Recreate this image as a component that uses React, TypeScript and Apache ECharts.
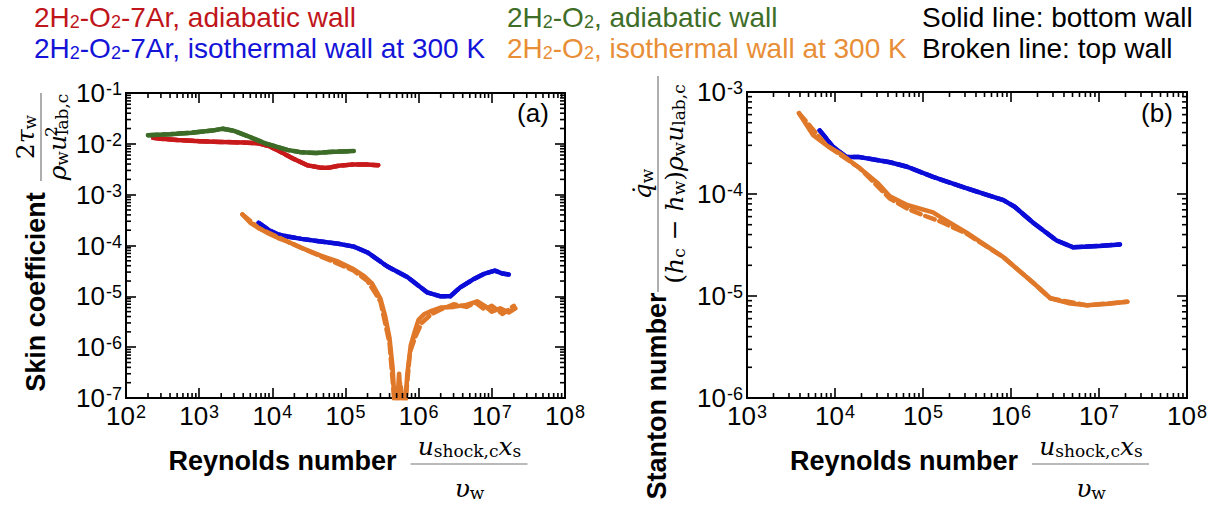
import React, { useEffect, useRef } from "react";
import * as echarts from "echarts";

// ---------- axis ranges ----------
const A_X_MIN = 1e2, A_X_MAX = 1e8, A_Y_MIN = 1e-7, A_Y_MAX = 1e-1;
const B_X_MIN = 1e3, B_X_MAX = 1e8, B_Y_MIN = 1e-6, B_Y_MAX = 1e-3;

// ---------- panel (a): skin coefficient ----------
const aRed: number[][] = [
  [235, 0.0132], [300, 0.0126], [500, 0.0119], [1000, 0.0113], [2000, 0.0109],
  [4000, 0.0106], [6500, 0.0102], [9000, 0.0090], [12000, 0.0074], [15000, 0.0062],
  [20000, 0.0050], [30000, 0.0038], [45000, 0.0034], [60000, 0.0034], [80000, 0.0037],
  [120000, 0.0039], [200000, 0.0039], [280000, 0.0038],
];
const aGreen: number[][] = [
  [200, 0.0148], [400, 0.0155], [800, 0.0166], [1500, 0.0182], [2100, 0.0198],
  [3000, 0.0180], [5000, 0.0135], [8000, 0.0102], [12000, 0.0086], [16000, 0.0076],
  [25000, 0.0068], [40000, 0.0066], [60000, 0.0069], [90000, 0.0071], [130000, 0.0072],
];
const aBlue: number[][] = [
  [6500, 2.8e-4], [9000, 2.0e-4], [12000, 1.65e-4], [16000, 1.5e-4], [25000, 1.35e-4],
  [46000, 1.2e-4], [80000, 1.08e-4], [130000, 9.5e-5], [200000, 7.3e-5], [370000, 3.9e-5],
  [700000, 2.4e-5], [1300000, 1.2e-5], [2000000, 1.0e-5], [2700000, 1.0e-5], [3700000, 1.5e-5],
  [5700000, 2.2e-5], [8000000, 2.8e-5], [11000000, 3.2e-5], [14000000, 2.8e-5], [17000000, 2.7e-5],
];
const aOrange: number[][] = [
  [3900, 4.1e-4], [5000, 2.8e-4], [6500, 2.2e-4], [9000, 1.7e-4], [12000, 1.4e-4],
  [16000, 1.2e-4], [25000, 9.0e-5], [46000, 6.3e-5], [80000, 4.8e-5], [130000, 3.4e-5],
  [180000, 2.5e-5], [230000, 1.8e-5], [300000, 9.0e-6], [350000, 4.0e-6], [400000, 1.5e-6],
  [440000, 4.0e-7], [470000, 8.0e-8], [500000, 5.0e-8], [540000, 3.0e-7], [580000, 6.0e-8],
  [640000, 5.0e-8], [700000, 3.0e-7], [780000, 1.1e-6], [900000, 2.2e-6], [1000000, 3.5e-6],
  [1200000, 4.5e-6], [1500000, 5.2e-6], [2000000, 6.0e-6], [3000000, 6.2e-6], [4500000, 6.8e-6],
  [6300000, 8.0e-6], [8000000, 6.5e-6], [10000000, 5.0e-6], [13000000, 5.8e-6], [17000000, 4.8e-6],
  [21000000, 5.8e-6],
];
const aOrangeTop: number[][] = [
  [3900, 4.1e-4], [6500, 2.2e-4], [16000, 1.2e-4], [46000, 6.1e-5], [130000, 3.2e-5],
  [200000, 2.0e-5], [300000, 8.0e-6], [400000, 1.2e-6], [480000, 5.0e-8], [560000, 2.0e-7],
  [640000, 5.0e-8], [760000, 8.0e-7], [900000, 1.6e-6], [1100000, 3.0e-6], [1500000, 4.5e-6],
  [2000000, 5.5e-6], [3000000, 7.0e-6], [4500000, 6.2e-6], [6000000, 7.5e-6], [8000000, 5.5e-6],
  [10000000, 6.5e-6], [14000000, 4.5e-6], [20000000, 6.5e-6],
];

// ---------- panel (b): Stanton number ----------
const bBlue: number[][] = [
  [6700, 4.2e-4], [9500, 2.9e-4], [13500, 2.3e-4], [19000, 2.3e-4], [42000, 2.05e-4],
  [66000, 1.85e-4], [130000, 1.47e-4], [310000, 1.14e-4], [820000, 8.7e-5], [1100000, 7.5e-5],
  [1800000, 5.2e-5], [3300000, 3.5e-5], [5100000, 3.0e-5], [10200000, 3.1e-5], [17300000, 3.2e-5],
];
const bOrange: number[][] = [
  [3900, 6.2e-4], [5600, 3.8e-4], [8000, 3.0e-4], [11400, 2.5e-4], [19000, 1.8e-4],
  [30000, 1.3e-4], [42000, 9.5e-5], [66000, 7.8e-5], [130000, 6.6e-5], [155000, 6.0e-5],
  [310000, 4.2e-5], [820000, 2.4e-5], [1800000, 1.34e-5], [2800000, 9.5e-6], [4500000, 8.5e-6],
  [7300000, 8.1e-6], [13000000, 8.4e-6], [21000000, 8.8e-6],
];
const bOrangeTop: number[][] = [
  [3900, 6.2e-4], [8000, 3.0e-4], [19000, 1.8e-4], [42000, 9.0e-5], [66000, 7.2e-5],
  [100000, 6.2e-5], [155000, 5.4e-5], [310000, 4.1e-5], [820000, 2.4e-5], [1800000, 1.34e-5],
  [2800000, 9.5e-6], [7300000, 8.1e-6], [21000000, 8.8e-6],
];

// ---------- colours / legend text ----------
const C_RED = "#c8191b";
const C_GREEN = "#3d6c28";
const C_BLUE = "#0c0cd8";
const C_ORANGE = "#e0782a";
const LEGEND_ROWS = [
  { text: "2H{s|2}-O{s|2}-7Ar, adiabatic wall", color: "#c0161b", col: 0, row: 0 },
  { text: "2H{s|2}-O{s|2}, adiabatic wall", color: "#3e6e28", col: 1, row: 0 },
  { text: "Solid line: bottom wall", color: "#000000", col: 2, row: 0 },
  { text: "2H{s|2}-O{s|2}-7Ar, isothermal wall at 300 K", color: "#1414d8", col: 0, row: 1 },
  { text: "2H{s|2}-O{s|2}, isothermal wall at 300 K", color: "#e88e36", col: 1, row: 1 },
  { text: "Broken line: top wall", color: "#000000", col: 2, row: 1 },
];
const LEGEND_COL_X = [34, 507, 922];
const LEGEND_ROW_Y = [17, 48];

const SANS = "'Liberation Sans', Arial, Helvetica, sans-serif";
const SERIF = "'DejaVu Serif', 'Liberation Serif', serif";

// ---------- layout ----------
const GRID_A = { left: 126, top: 93, width: 439, height: 305 };
const GRID_B = { left: 747, top: 92, width: 440, height: 306 };
const MINOR_LEN = 5;

// minor tick values (2..9 x 10^n) inside an axis range
function minorTicks(min: number, max: number) {
  const out: number[] = [];
  const e0 = Math.round(Math.log(min) / Math.LN10);
  const e1 = Math.round(Math.log(max) / Math.LN10);
  for (let e = e0; e < e1; e++) {
    for (let k = 2; k <= 9; k++) out.push(k * Math.pow(10, e));
  }
  return out;
}

const powLabel = (v: number) => `{b|10}{s|${Math.round(Math.log10(v))}}`;
const powRich = {
  b: { fontSize: 26, fontFamily: SANS, color: "#000", lineHeight: 26, verticalAlign: "bottom" },
  s: { fontSize: 18, fontFamily: SANS, color: "#000", lineHeight: 18, verticalAlign: "top", padding: [0, 0, 15, 1] },
};

function logAxis(min: number, max: number, isX: boolean, gridIndex: number, mirror: boolean) {
  return {
    type: "log",
    logBase: 10,
    gridIndex,
    min,
    max,
    splitNumber: 10,
    position: mirror ? (isX ? "top" : "right") : isX ? "bottom" : "left",
    axisLine: { show: false },
    axisTick: { show: true, inside: true, length: 10, lineStyle: { color: "#000", width: 1.6 } },
    splitLine: { show: false },
    minorTick: { show: false },
    axisLabel: {
      show: !mirror,
      formatter: powLabel,
      rich: powRich,
      margin: isX ? 5 : 4,
      showMinLabel: true,
      showMaxLabel: true,
    },
  };
}

function lineSeries(data: number[][], color: string, idx: number, dashed = false) {
  return {
    type: "line",
    xAxisIndex: idx,
    yAxisIndex: idx,
    data,
    showSymbol: false,
    symbol: "none",
    clip: true,
    silent: true,
    z: 3,
    lineStyle: { color, width: 4.5, type: dashed ? [10, 5] : "solid", cap: "round", join: "round" },
  };
}

function buildGraphic() {
  const g: any[] = [];
  LEGEND_ROWS.forEach((r) => {
    g.push({
      type: "text",
      x: LEGEND_COL_X[r.col],
      y: LEGEND_ROW_Y[r.row],
      style: {
        text: r.text,
        fill: r.color,
        font: `28px ${SANS}`,
        verticalAlign: "middle",
        align: "left",
        rich: {
          s: { fontSize: 18, fontFamily: SANS, fill: r.color, verticalAlign: "bottom", lineHeight: 18, padding: [12, 0, 0, 0] },
        },
      },
    });
  });
  // panel labels
  g.push({ type: "text", x: 533, y: 113, style: { text: "(a)", font: `26px ${SANS}`, fill: "#000", align: "center", verticalAlign: "middle" } });
  g.push({ type: "text", x: 1157, y: 113, style: { text: "(b)", font: `26px ${SANS}`, fill: "#000", align: "center", verticalAlign: "middle" } });

  const mathRich = (size: number) => ({
    i: { fontFamily: SERIF, fontStyle: "italic", fontSize: size, fill: "#000" },
    r: { fontFamily: SERIF, fontSize: size, fill: "#000" },
    s: { fontFamily: SERIF, fontSize: Math.round(size * 0.68), fill: "#000", verticalAlign: "bottom", padding: [9, 0, 0, 0] },
  });

  // x-axis titles
  [GRID_A.left + GRID_A.width / 2, GRID_B.left + GRID_B.width / 2].forEach((cx) => {
    g.push({
      type: "text", x: cx - 177, y: 461,
      style: { text: "Reynolds number", font: `bold 27px ${SANS}`, fill: "#000", align: "left", verticalAlign: "middle" },
    });
    g.push({
      type: "text", x: cx + 124, y: 446,
      style: { text: "{i|u}{s|shock,c}{i|x}{s|s}", rich: mathRich(25), align: "center", verticalAlign: "middle" },
    });
    g.push({ type: "line", shape: { x1: cx + 65, y1: 464, x2: cx + 182, y2: 464 }, style: { stroke: "#777", lineWidth: 1.2 } });
    g.push({
      type: "text", x: cx + 124, y: 488,
      style: { text: "{i|υ}{s|w}", rich: mathRich(25), align: "center", verticalAlign: "middle" },
    });
  });

  // y-axis title (a)
  g.push({
    type: "text", x: 36, y: 292, rotation: Math.PI / 2,
    style: { text: "Skin coefficient", font: `bold 27px ${SANS}`, fill: "#000", align: "center", verticalAlign: "middle" },
  });
  g.push({
    type: "group", x: 41, y: 137, rotation: Math.PI / 2,
    children: [
      { type: "line", shape: { x1: -44, y1: 0, x2: 44, y2: 0 }, style: { stroke: "#777", lineWidth: 1.2 } },
      { type: "text", x: 0, y: -3, style: { text: "{r|2}{i|τ}{s|w}", rich: mathRich(25), align: "center", verticalAlign: "bottom" } },
      { type: "text", x: 0, y: 3, style: { text: "{i|ρ}{s|w}{i|u}{s|lab,c}", rich: mathRich(25), align: "center", verticalAlign: "top" } },
      { type: "text", x: 0, y: 1, style: { text: "2", font: `17px ${SERIF}`, fill: "#000", align: "left", verticalAlign: "top" } },
    ],
  });

  // y-axis title (b)
  g.push({
    type: "text", x: 657, y: 396, rotation: Math.PI / 2,
    style: { text: "Stanton number", font: `bold 27px ${SANS}`, fill: "#000", align: "center", verticalAlign: "middle" },
  });
  g.push({
    type: "group", x: 658, y: 184, rotation: Math.PI / 2,
    children: [
      { type: "line", shape: { x1: -108, y1: 0, x2: 108, y2: 0 }, style: { stroke: "#777", lineWidth: 1.2 } },
      { type: "text", x: 0, y: -3, style: { text: "{i|q̇}{s|w}", rich: mathRich(25), align: "center", verticalAlign: "bottom" } },
      { type: "text", x: 0, y: 3, style: { text: "{r|(}{i|h}{s|c}{r| − }{i|h}{s|w}{r|)}{i|ρ}{s|w}{i|u}{s|lab,c}", rich: mathRich(25), align: "center", verticalAlign: "top" } },
    ],
  });
  return g;
}

// position of a value along a log axis; the chart's own conversion is used when it agrees with the frame
function axisPixel(chart: any, finder: any, v: number, lo: number, hi: number, start: number, span: number, flip: boolean) {
  const t = Math.log(v / lo) / Math.log(hi / lo);
  const expected = flip ? start + span * (1 - t) : start + span * t;
  let p: any = undefined;
  try {
    p = chart.convertToPixel(finder, v);
  } catch (e) {
    p = undefined;
  }
  if (typeof p === "number" && isFinite(p) && Math.abs(p - expected) < 3) return p;
  return expected;
}

function minorTickGraphics(chart: any, gridIdx: number, grid: any, xMin: number, xMax: number, yMin: number, yMax: number) {
  const out: any[] = [];
  const bottom = grid.top + grid.height;
  const right = grid.left + grid.width;
  const mk = (x1: number, y1: number, x2: number, y2: number) => ({
    type: "line",
    silent: true,
    z: 50,
    shape: { x1, y1, x2, y2 },
    style: { stroke: "#000000", lineWidth: 1.6 },
  });
  minorTicks(xMin, xMax).forEach((v) => {
    const x = axisPixel(chart, { xAxisIndex: gridIdx }, v, xMin, xMax, grid.left, grid.width, false);
    out.push(mk(x, bottom, x, bottom - MINOR_LEN));
    out.push(mk(x, grid.top, x, grid.top + MINOR_LEN));
  });
  minorTicks(yMin, yMax).forEach((v) => {
    const y = axisPixel(chart, { yAxisIndex: gridIdx }, v, yMin, yMax, grid.top, grid.height, true);
    out.push(mk(grid.left, y, grid.left + MINOR_LEN, y));
    out.push(mk(right, y, right - MINOR_LEN, y));
  });
  return out;
}

export default function App() {
  const ref = useRef<HTMLDivElement>(null);
  useEffect(() => {
    document.body.style.margin = "0";
    const chart = echarts.init(ref.current as HTMLDivElement, undefined, { renderer: "svg" });
    const baseGraphic = buildGraphic();
    const option: any = {
      animation: false,
      backgroundColor: "#ffffff",
      grid: [
        { ...GRID_A, show: true, borderColor: "#000", borderWidth: 2, backgroundColor: "transparent" },
        { ...GRID_B, show: true, borderColor: "#000", borderWidth: 2, backgroundColor: "transparent" },
      ],
      xAxis: [
        logAxis(A_X_MIN, A_X_MAX, true, 0, false),
        logAxis(B_X_MIN, B_X_MAX, true, 1, false),
        logAxis(A_X_MIN, A_X_MAX, true, 0, true),
        logAxis(B_X_MIN, B_X_MAX, true, 1, true),
      ],
      yAxis: [
        logAxis(A_Y_MIN, A_Y_MAX, false, 0, false),
        logAxis(B_Y_MIN, B_Y_MAX, false, 1, false),
        logAxis(A_Y_MIN, A_Y_MAX, false, 0, true),
        logAxis(B_Y_MIN, B_Y_MAX, false, 1, true),
      ],
      series: [
        lineSeries(aRed, C_RED, 0),
        lineSeries(aRed, C_RED, 0, true),
        lineSeries(aGreen, C_GREEN, 0),
        lineSeries(aGreen, C_GREEN, 0, true),
        lineSeries(aBlue, C_BLUE, 0),
        lineSeries(aBlue, C_BLUE, 0, true),
        lineSeries(aOrange, C_ORANGE, 0),
        lineSeries(aOrangeTop, C_ORANGE, 0, true),
        lineSeries(bBlue, C_BLUE, 1),
        lineSeries(bBlue, C_BLUE, 1, true),
        lineSeries(bOrange, C_ORANGE, 1),
        lineSeries(bOrangeTop, C_ORANGE, 1, true),
      ],
      graphic: baseGraphic,
    };
    chart.setOption(option);
    const ticks = [
      ...minorTickGraphics(chart, 0, GRID_A, A_X_MIN, A_X_MAX, A_Y_MIN, A_Y_MAX),
      ...minorTickGraphics(chart, 1, GRID_B, B_X_MIN, B_X_MAX, B_Y_MIN, B_Y_MAX),
    ];
    chart.setOption({ graphic: baseGraphic.concat(ticks) });
    return () => chart.dispose();
  }, []);
  return <div ref={ref} style={{ width: 1216, height: 505 }} />;
}
